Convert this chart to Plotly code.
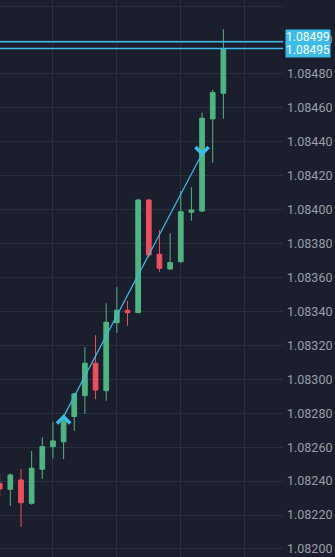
import plotly.graph_objects as go

# ---- data ----
idx = list(range(22))
opens  = [1.082387, 1.082352, 1.082407, 1.082269, 1.082470, 1.082603, 1.082632, 1.082781,
          1.082904, 1.083095, 1.082933, 1.083334, 1.083407, 1.083393, 1.084057, 1.083737,
          1.083650, 1.083693, 1.083985, 1.083992, 1.084535, 1.084686]
highs  = [1.082442, 1.082445, 1.082472, 1.082578, 1.082658, 1.082749, 1.082778, 1.082920,
          1.083189, 1.083260, 1.083448, 1.083543, 1.083462, 1.084063, 1.084063, 1.083880,
          1.083861, 1.084110, 1.084132, 1.084572, 1.084706, 1.085063]
lows   = [1.082312, 1.082253, 1.082131, 1.082261, 1.082413, 1.082533, 1.082530, 1.082696,
          1.082796, 1.082882, 1.082874, 1.083275, 1.083316, 1.083391, 1.083717, 1.083634,
          1.083645, 1.083689, 1.083935, 1.083986, 1.084277, 1.084536]
closes = [1.082354, 1.082436, 1.082273, 1.082476, 1.082603, 1.082637, 1.082756, 1.082914,
          1.083095, 1.082937, 1.083336, 1.083407, 1.083393, 1.084057, 1.083733, 1.083655,
          1.083688, 1.083988, 1.083998, 1.084539, 1.084690, 1.084945]

trend_x = [6, 19]
trend_y = [1.08278, 1.08433]
signal_dir = ["up", "down"]

level_prices = [1.08499, 1.08495]
level_labels = ["1.08499", "1.08495"]
level_shift = [5, -1]

tick_vals = [1.08200 + 0.0002 * k for k in range(17)]
tick_text = [f"{v:.5f}" for v in tick_vals]
xgrid_vals = [5, 11, 17, 23]

# ---- style ----
BG = "#1b1f2d"
GRID = "#2a2f3d"
GREEN = "#50b482"
RED = "#eb505f"
CYAN = "#3bbde8"

fig = go.Figure()
fig.add_trace(go.Candlestick(
    x=idx, open=opens, high=highs, low=lows, close=closes,
    increasing=dict(line=dict(color=GREEN, width=1), fillcolor=GREEN),
    decreasing=dict(line=dict(color=RED, width=1), fillcolor=RED),
    whiskerwidth=0, showlegend=False, hoverinfo="skip"))

fig.add_trace(go.Scatter(x=trend_x, y=trend_y, mode="lines",
                         line=dict(color=CYAN, width=1.2), showlegend=False, hoverinfo="skip"))

hw, hh = 0.62, 0.00004
for sx, sy, d in zip(trend_x, trend_y, signal_dir):
    off = -hh if d == "up" else hh
    fig.add_trace(go.Scatter(x=[sx - hw, sx, sx + hw], y=[sy + off, sy, sy + off],
                             mode="lines", line=dict(color=CYAN, width=3.5),
                             showlegend=False, hoverinfo="skip"))

for p in level_prices:
    fig.add_shape(type="line", xref="paper", x0=0, x1=1, yref="y", y0=p, y1=p,
                  line=dict(color=CYAN, width=1.5))

for p, t, s in zip(level_prices, level_labels, level_shift):
    fig.add_annotation(xref="paper", x=1, xanchor="left", xshift=2, yref="y", y=p,
                       yshift=s, text=t, showarrow=False, bgcolor=CYAN,
                       font=dict(family="Roboto", size=12, color="#ffffff"),
                       borderpad=0)

fig.update_layout(
    width=335, height=557, autosize=False,
    margin=dict(l=0, r=52, t=0, b=0),
    paper_bgcolor=BG, plot_bgcolor=BG,
    boxgap=0.37,
    xaxis=dict(range=[0.028, 26.6], tickvals=xgrid_vals, showticklabels=False,
               showgrid=True, gridcolor=GRID, gridwidth=1, zeroline=False,
               rangeslider=dict(visible=False), fixedrange=True),
    yaxis=dict(range=[1.0819527, 1.085236], side="right", tickvals=tick_vals,
               ticktext=tick_text, showgrid=True, gridcolor=GRID, gridwidth=1,
               zeroline=False, ticks="", ticklabelstandoff=3,
               tickfont=dict(family="Roboto", size=12.5, color="#9a9da8")),
)

fig.write_html("out.html")
